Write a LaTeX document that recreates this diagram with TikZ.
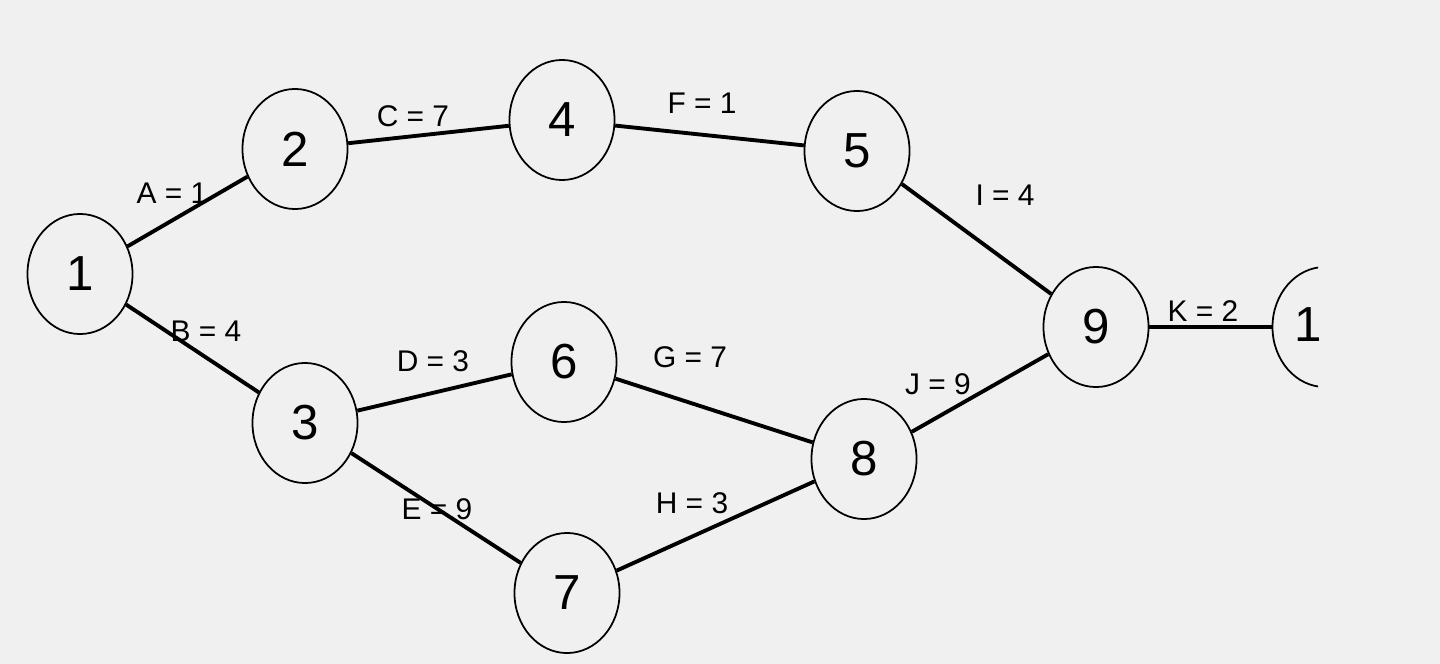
\documentclass[tikz,border=0pt]{standalone}
\usepackage{fontspec}
\setmainfont{Liberation Sans}
\usetikzlibrary{shapes.geometric}
\begin{document}
\begin{tikzpicture}[x=0.01cm,y=-0.01cm,
  ev/.style={draw,ellipse,line width=0.5pt,minimum width=1.05cm,minimum height=1.2cm,inner sep=0pt,font=\fontsize{14}{16}\selectfont},
  act/.style={line width=1.1pt},
  lab/.style={font=\fontsize{8.5}{10}\selectfont}]
\fill[black!6] (0,0) rectangle (1440,664);
\useasboundingbox (0,0) rectangle (1440,664);
\node[ev] (n1) at (80,274) {1};
\node[ev] (n2) at (295,149) {2};
\node[ev] (n4) at (562,120) {4};
\node[ev] (n5) at (857,151) {5};
\node[ev] (n3) at (305,423) {3};
\node[ev] (n6) at (564,362) {6};
\node[ev] (n7) at (567,593) {7};
\node[ev] (n8) at (864,459) {8};
\node[ev] (n9) at (1096,327) {9};
\begin{scope}
\clip (1260,250) rectangle (1318,400);
\node[ev] (n10) at (1325,327) {};
\end{scope}
\node[font=\fontsize{14}{16}\selectfont] (t10) at (1308,325) {1};
\draw[act] (n1) -- (n2);
\draw[act] (n1) -- (n3);
\draw[act] (n2) -- (n4);
\draw[act] (n4) -- (n5);
\draw[act] (n3) -- (n6);
\draw[act] (n3) -- (n7);
\draw[act] (n6) -- (n8);
\draw[act] (n7) -- (n8);
\draw[act] (n5) -- (n9);
\draw[act] (n8) -- (n9);
\draw[act] (n9) -- (n10.west);
\node[lab] (lA) at (172,193) {A = 1};
\node[lab] (lB) at (206,331) {B = 4};
\node[lab] (lC) at (413,116) {C = 7};
\node[lab] (lD) at (433,361) {D = 3};
\node[lab] (lE) at (437,509) {E = 9};
\node[lab] (lF) at (702,103) {F = 1};
\node[lab] (lG) at (690,357) {G = 7};
\node[lab] (lH) at (692,503) {H = 3};
\node[lab] (lI) at (1005,195) {I = 4};
\node[lab] (lJ) at (938,384) {J = 9};
\node[lab] (lK) at (1203,311) {K = 2};
\end{tikzpicture}
\end{document}
